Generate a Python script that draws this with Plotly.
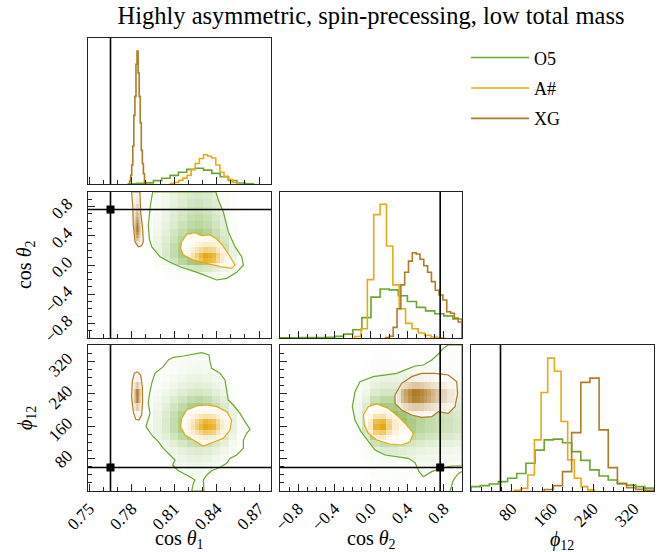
import numpy as np
import plotly.graph_objects as go

SERIES = ["O5", "A#", "XG"]
COLORS = {"O5": (104, 168, 44), "A#": (232, 170, 20), "XG": (176, 123, 37)}
TRUTHS = {"c1": 0.765, "c2": 0.76, "phi": 58.0}
RANGES = {"c1": [0.7491, 0.8784], "c2": [-1.0, 1.0], "phi": [0.0, 360.0]}

TICKS_C1 = [0.75, 0.78, 0.81, 0.84, 0.87]
TICKTEXT_C1 = ["0.75", "0.78", "0.81", "0.84", "0.87"]
TICKS_C2 = [-0.8, -0.4, 0.0, 0.4, 0.8]
TICKTEXT_C2 = ["\u22120.8", "\u22120.4", "0.0", "0.4", "0.8"]
TICKS_PHI = [80, 160, 240, 320]
TICKTEXT_PHI = ["80", "160", "240", "320"]

TITLE = "Highly asymmetric, spin-precessing, low total mass"
LABELS = {"c1": "cos <i>θ</i><sub>1</sub>", "c2": "cos <i>θ</i><sub>2</sub>", "phi": "<i>ϕ</i><sub>12</sub>"}

# ---- 1D histograms (bin edges, relative heights) ----
c1_edges_O5 = [0.7776, 0.7835, 0.7894, 0.7953, 0.8012, 0.8071, 0.8130, 0.8189, 0.8248, 0.8307,
               0.8366, 0.8425, 0.8484, 0.8543, 0.8602, 0.8661]
c1_h_O5 = [0.002, 0.004, 0.008, 0.023, 0.039, 0.059, 0.080, 0.100, 0.108, 0.095, 0.073, 0.050,
           0.024, 0.007, 0.002]
c1_edges_A = [0.8075, 0.8104, 0.8133, 0.8162, 0.8191, 0.8220, 0.8249, 0.8278, 0.8307, 0.8336,
              0.8365, 0.8394, 0.8423, 0.8452, 0.8481, 0.8510, 0.8539]
c1_h_A = [0.005, 0.012, 0.025, 0.040, 0.060, 0.100, 0.140, 0.175, 0.200, 0.190, 0.178, 0.130,
          0.080, 0.053, 0.030, 0.011]
c1_edges_XG = [0.7785, 0.77925, 0.7800, 0.78075, 0.7815, 0.78225, 0.7830, 0.78375, 0.7845,
               0.78525, 0.7860, 0.78675, 0.7875, 0.78825, 0.7890, 0.78975]
c1_h_XG = [0.02, 0.06, 0.13, 0.26, 0.47, 0.60, 0.82, 0.91, 0.76, 0.60, 0.42, 0.23, 0.14, 0.07, 0.01]

c2_edges_O5 = [-1.0, -0.9, -0.8, -0.7, -0.6, -0.5, -0.4, -0.3, -0.2, -0.1, 0.0, 0.1, 0.2, 0.3,
               0.4, 0.5, 0.6, 0.7, 0.8, 0.9, 1.0]
c2_h_O5 = [0.002, 0.002, 0.003, 0.003, 0.004, 0.005, 0.011, 0.027, 0.057, 0.140, 0.280, 0.336,
           0.330, 0.290, 0.250, 0.210, 0.186, 0.166, 0.152, 0.130]
c2_edges_A = [-0.18, -0.11, -0.04, 0.03, 0.10, 0.17, 0.24, 0.31, 0.38, 0.45, 0.52, 0.59, 0.66,
              0.73, 0.80]
c2_h_A = [0.010, 0.064, 0.400, 0.845, 0.916, 0.630, 0.364, 0.200, 0.100, 0.064, 0.034, 0.018,
          0.007, 0.002]
c2_edges_XG = [0.160, 0.202, 0.244, 0.286, 0.328, 0.370, 0.412, 0.454, 0.496, 0.538, 0.580,
               0.622, 0.664, 0.706, 0.748, 0.790, 0.832, 0.874, 0.916, 0.958, 1.000]
c2_h_XG = [0.003, 0.012, 0.073, 0.200, 0.364, 0.450, 0.527, 0.584, 0.575, 0.540, 0.495, 0.450,
           0.386, 0.327, 0.295, 0.260, 0.180, 0.170, 0.136, 0.110]

phi_edges_O5 = [0, 18, 36, 54, 72, 90, 108, 126, 144, 162, 180, 198, 216, 234, 252, 270, 288,
                306, 324, 342, 360]
phi_h_O5 = [0.030, 0.037, 0.048, 0.064, 0.087, 0.120, 0.190, 0.280, 0.350, 0.355, 0.330, 0.270,
            0.210, 0.145, 0.103, 0.075, 0.048, 0.040, 0.030, 0.020]
phi_edges_A = [85.4, 98.5, 111.6, 124.7, 137.8, 150.9, 164.0, 177.1, 190.2, 203.3, 216.4, 229.5,
               242.6]
phi_h_A = [0.005, 0.018, 0.110, 0.350, 0.675, 0.910, 0.820, 0.476, 0.213, 0.087, 0.030, 0.008]
phi_edges_XG = [144, 162, 180, 198, 216, 234, 252, 270, 288, 306, 324, 342, 360]
phi_h_XG = [0.010, 0.037, 0.133, 0.400, 0.744, 0.773, 0.419, 0.160, 0.053, 0.023, 0.011, 0.005]

# ---- contour outlines ----
# cos theta1 vs cos theta2
ct_c1c2_O5_x = [0.7948, 0.7934, 0.7917, 0.7924, 0.7941, 0.8000, 0.8070, 0.8141, 0.8282, 0.8400,
                0.8471, 0.8542, 0.8589, 0.8577, 0.8530, 0.8482, 0.8447, 0.8412, 0.8395]
ct_c1c2_O5_y = [1.0, 0.845, 0.548, 0.365, 0.251, 0.114, 0.037, -0.023, -0.114, -0.205, -0.183,
                -0.100, 0.0, 0.114, 0.251, 0.457, 0.730, 0.890, 1.0]
ct_c1c2_A_x = [0.8153, 0.8188, 0.8247, 0.8294, 0.8353, 0.8400, 0.8436, 0.8482, 0.8530, 0.8506,
               0.8424, 0.8330, 0.8235, 0.8165, 0.8146]
ct_c1c2_A_y = [0.319, 0.420, 0.443, 0.402, 0.411, 0.356, 0.283, 0.155, 0.0, -0.045, -0.023, 0.023,
               0.068, 0.137, 0.228]
ct_c1c2_XG_x = [0.7799, 0.7807, 0.7811, 0.7823, 0.7847, 0.7870, 0.7882, 0.7877, 0.7863, 0.7858]
ct_c1c2_XG_y = [1.0, 0.822, 0.548, 0.319, 0.251, 0.265, 0.319, 0.503, 0.730, 1.0]
# cos theta1 vs phi12
ct_c1phi_O5_x = [0.8058, 0.8094, 0.8164, 0.8235, 0.8294, 0.8347, 0.8353, 0.8365, 0.8424, 0.8459,
                 0.8471, 0.8482, 0.8518, 0.8565, 0.8600, 0.8636, 0.8612, 0.8589, 0.8589, 0.8542,
                 0.8494, 0.8471, 0.8424, 0.8365, 0.8330, 0.8306, 0.8311, 0.8224, 0.8235, 0.8247,
                 0.8188, 0.8129, 0.8089, 0.8106, 0.8070, 0.8023, 0.7988, 0.7941, 0.7901, 0.7929,
                 0.7917, 0.7924, 0.7941, 0.7964, 0.8023]
ct_c1phi_O5_y = [323, 329.6, 332.8, 337.8, 341, 335.3, 318.9, 302.4, 290.1, 273.7, 249, 224.4, 212,
                 191.5, 170.9, 152, 142.2, 125.7, 105.2, 88.8, 80.5, 68.2, 58.4, 50.1, 39.4, 27.1,
                 0, 0, 18.9, 27.1, 39.4, 50.1, 64.1, 76.4, 88.8, 105.2, 121.6, 138.1, 158.6, 191.5,
                 216.1, 236.7, 265.5, 290.1, 306.6]
ct_c1phi_A_x = [0.8153, 0.8188, 0.8259, 0.8330, 0.8400, 0.8471, 0.8506, 0.8494, 0.8447, 0.8388,
                0.8306, 0.8235, 0.8176, 0.8146]
ct_c1phi_A_y = [179.2, 199.7, 209.6, 212, 207.9, 195.6, 175, 150.4, 129.9, 121.6, 110.9, 125.7,
                138.1, 158.6]
ct_c1phi_XG_x = [0.7839, 0.7863, 0.7875, 0.7877, 0.7870, 0.7851, 0.7828, 0.7811, 0.7799, 0.7804,
                 0.7818]
ct_c1phi_XG_y = [294.3, 286, 257.2, 220.3, 187.4, 175, 176.7, 195.6, 232.6, 269.6, 290.1]
# cos theta2 vs phi12
ct_c2phi_O5_x = [-0.176, -0.121, 0.026, 0.154, 0.282, 0.392, 0.484, 0.575, 0.667, 0.740, 0.795,
                 0.832, 0.85, 1.0, 1.0, 0.886, 0.766, 0.667, 0.575, 0.527, 0.484, 0.410, 0.282,
                 0.154, 0.044, -0.048, -0.110, -0.176, -0.205]
ct_c2phi_O5_y = [244.9, 269.6, 281.9, 286, 290.1, 300, 308.2, 310.7, 323, 337.8, 351.7, 357.5, 360,
                 360, 61.6, 61.6, 55.9, 47.7, 35.3, 47.7, 69.9, 80.5, 84.6, 88.8, 101.1, 129.9,
                 146.3, 175, 207.9]
ct_c2phi_O5b_x = [0.868, 0.905, 0.960, 1.0]
ct_c2phi_O5b_y = [0, 27.1, 43.5, 47.7]
ct_c2phi_A_x = [-0.084, -0.029, 0.062, 0.190, 0.300, 0.392, 0.465, 0.429, 0.337, 0.209, 0.062,
                -0.029, -0.073]
ct_c2phi_A_y = [187.4, 207.9, 214.5, 203.8, 183.3, 162.7, 142.2, 121.6, 113.4, 115.9, 125.7,
                142.2, 162.7]
ct_c2phi_XG_x = [0.264, 0.337, 0.447, 0.557, 0.703, 0.850, 0.941, 0.952, 0.923, 0.850, 0.740,
                 0.667, 0.557, 0.447, 0.337, 0.264]
ct_c2phi_XG_y = [236.7, 265.5, 281.9, 290.1, 290.1, 286, 269.6, 240.9, 207.9, 191.5, 195.6, 183.3,
                 181.6, 187.4, 199.7, 216.1]

HIST = {
    "c1": {"O5": (c1_edges_O5, c1_h_O5), "A#": (c1_edges_A, c1_h_A), "XG": (c1_edges_XG, c1_h_XG)},
    "c2": {"O5": (c2_edges_O5, c2_h_O5), "A#": (c2_edges_A, c2_h_A), "XG": (c2_edges_XG, c2_h_XG)},
    "phi": {"O5": (phi_edges_O5, phi_h_O5), "A#": (phi_edges_A, phi_h_A), "XG": (phi_edges_XG, phi_h_XG)},
}
CONTOURS = {
    ("c1", "c2"): {"O5": [(ct_c1c2_O5_x, ct_c1c2_O5_y)], "A#": [(ct_c1c2_A_x, ct_c1c2_A_y)],
                   "XG": [(ct_c1c2_XG_x, ct_c1c2_XG_y)]},
    ("c1", "phi"): {"O5": [(ct_c1phi_O5_x, ct_c1phi_O5_y)], "A#": [(ct_c1phi_A_x, ct_c1phi_A_y)],
                    "XG": [(ct_c1phi_XG_x, ct_c1phi_XG_y)]},
    ("c2", "phi"): {"O5": [(ct_c2phi_O5_x, ct_c2phi_O5_y)], "A#": [(ct_c2phi_A_x, ct_c2phi_A_y)],
                    "XG": [(ct_c2phi_XG_x, ct_c2phi_XG_y)]},
}
OPEN_LINES = {("c2", "phi"): {"O5": [(ct_c2phi_O5b_x, ct_c2phi_O5b_y)]}}

# density shading style per series (gamma, peak strength)
SHADE = {"O5": (1.15, 0.8), "A#": (1.6, 1.0), "XG": (1.4, 1.0)}

# ---- layout geometry ----
XDOM = {1: [0.0, 0.3233], 2: [0.3392, 0.6608], 3: [0.6767, 1.0]}
YDOM = {1: [0.6777, 1.0], 2: [0.3377, 0.66], 3: [0.0, 0.3223]}
PARAMS = ["c1", "c2", "phi"]
PANELS = {(1, 1): 1, (2, 1): 2, (2, 2): 3, (3, 1): 4, (3, 2): 5, (3, 3): 6}
FONT = "Liberation Serif, Times New Roman, serif"


def rgba(c, a):
    return "rgba(%d,%d,%d,%.3f)" % (c[0], c[1], c[2], a)


def hexc(c):
    return "#%02x%02x%02x" % c


def step_xy(edges, h):
    return [edges[0]] + list(edges), [0] + list(h) + [0]


def lookup(edges, h, pts):
    e = np.asarray(edges, float)
    hv = np.asarray(h, float)
    idx = np.searchsorted(e, pts, side="right") - 1
    ok = (idx >= 0) & (idx < len(hv))
    out = np.zeros_like(pts)
    out[ok] = hv[idx[ok]]
    return out


def inside(px, py, vx, vy):
    vx = np.asarray(vx, float)
    vy = np.asarray(vy, float)
    res = np.zeros(px.shape, bool)
    n = len(vx)
    j = n - 1
    for i in range(n):
        xi, yi, xj, yj = vx[i], vy[i], vx[j], vy[j]
        if yi != yj:
            cond = ((yi > py) != (yj > py)) & (px < (xj - xi) * (py - yi) / (yj - yi) + xi)
            res ^= cond
        j = i
    return res


fig = go.Figure()

def axname(k, kind):
    return kind if k == 1 else kind + str(k)

# ---- 1D histograms ----
for p_i, p in enumerate(PARAMS):
    k = PANELS[(p_i + 1, p_i + 1)]
    for s in SERIES:
        xs, ys = step_xy(*HIST[p][s])
        fig.add_trace(go.Scatter(
            x=xs, y=ys, mode="lines", line=dict(color=hexc(COLORS[s]), width=1.6, shape="hv"),
            xaxis=axname(k, "x"), yaxis=axname(k, "y"), name=s, legendgroup=s,
            showlegend=(p_i == 0), hoverinfo="skip"))

# ---- 2D densities + contours ----
NX, NY = 183, 146
for (r, c), k in PANELS.items():
    if r == c:
        continue
    xp, yp = PARAMS[c - 1], PARAMS[r - 1]
    x0, x1 = RANGES[xp]
    y0, y1 = RANGES[yp]
    xc = x0 + (np.arange(NX) + 0.5) * (x1 - x0) / NX
    yc = y0 + (np.arange(NY) + 0.5) * (y1 - y0) / NY
    XX, YY = np.meshgrid(xc, yc)
    for s in SERIES:
        g, amp = SHADE[s]
        vx = lookup(*HIST[xp][s], xc)
        vy = lookup(*HIST[yp][s], yc)
        Z = np.outer(vy, vx)
        Z = amp * (Z / Z.max()) ** g
        ins = np.zeros(Z.shape, bool)
        for (px_, py_) in CONTOURS[(xp, yp)][s]:
            ins |= inside(XX, YY, px_, py_)
        col = COLORS[s]
        z_out = np.where((~ins) & (Z > 0.002), Z * 0.3, np.nan)
        z_in = np.where(ins, Z, np.nan)
        fig.add_trace(go.Heatmap(
            x=xc, y=yc, z=np.round(z_out, 4), zmin=0, zmax=1, showscale=False, hoverinfo="skip",
            colorscale=[[0, rgba(col, 0)], [1, rgba(col, 1)]],
            xaxis=axname(k, "x"), yaxis=axname(k, "y")))
        fig.add_trace(go.Heatmap(
            x=xc, y=yc, z=np.round(z_in, 4), zmin=0, zmax=1, showscale=False, hoverinfo="skip",
            colorscale=[[0, "rgb(255,255,255)"], [1, rgba(col, 1)]],
            xaxis=axname(k, "x"), yaxis=axname(k, "y")))
    for s in SERIES:
        for (px_, py_) in CONTOURS[(xp, yp)][s]:
            fig.add_trace(go.Scatter(
                x=list(px_) + [px_[0]], y=list(py_) + [py_[0]], mode="lines",
                line=dict(color=hexc(COLORS[s]), width=1.2), showlegend=False, hoverinfo="skip",
                xaxis=axname(k, "x"), yaxis=axname(k, "y")))
        for (px_, py_) in OPEN_LINES.get((xp, yp), {}).get(s, []):
            fig.add_trace(go.Scatter(
                x=px_, y=py_, mode="lines", line=dict(color=hexc(COLORS[s]), width=1.2),
                showlegend=False, hoverinfo="skip", xaxis=axname(k, "x"), yaxis=axname(k, "y")))
    # truth marker
    fig.add_trace(go.Scatter(
        x=[TRUTHS[xp]], y=[TRUTHS[yp]], mode="markers",
        marker=dict(symbol="square", size=8, color="black"), showlegend=False, hoverinfo="skip",
        xaxis=axname(k, "x"), yaxis=axname(k, "y")))

# ---- truth lines ----
shapes = []
for (r, c), k in PANELS.items():
    xp = PARAMS[c - 1]
    xa, ya = axname(k, "x"), axname(k, "y")
    shapes.append(dict(type="line", xref=xa, yref=ya + " domain", x0=TRUTHS[xp], x1=TRUTHS[xp],
                       y0=0, y1=1, line=dict(color="black", width=1.6), layer="above"))
    if r != c:
        yp = PARAMS[r - 1]
        shapes.append(dict(type="line", xref=xa + " domain", yref=ya, x0=0, x1=1, y0=TRUTHS[yp],
                           y1=TRUTHS[yp], line=dict(color="black", width=1.6), layer="above"))

TICKS = {"c1": (TICKS_C1, TICKTEXT_C1, 0.75, 0.01), "c2": (TICKS_C2, TICKTEXT_C2, 0.0, 0.1),
         "phi": (TICKS_PHI, TICKTEXT_PHI, 0.0, 20)}

layout = dict(
    width=664, height=552, margin=dict(l=88, r=10, t=38, b=61, autoexpand=False),
    plot_bgcolor="white", paper_bgcolor="white",
    font=dict(family=FONT, color="black", size=17),
    title=dict(text=TITLE, x=0.5, xref="paper", xanchor="center", y=1 - 15 / 552, yref="container",
               yanchor="middle", font=dict(size=24.5, family=FONT)),
    legend=dict(x=0.668, y=0.997, xanchor="left", yanchor="top", font=dict(size=18, family=FONT),
                tracegroupgap=4, itemwidth=58, bgcolor="rgba(0,0,0,0)"),
    shapes=shapes,
)

for (r, c), k in PANELS.items():
    xp = PARAMS[c - 1]
    tv, tt, t0, dt = TICKS[xp]
    base = dict(showgrid=False, zeroline=False, showline=True, mirror=True, linecolor="#222",
                linewidth=1.2, ticks="inside", ticklen=7, tickwidth=1, tickcolor="#222",
                tickfont=dict(family=FONT, size=17), automargin=False)
    xa = dict(base, domain=XDOM[c], range=RANGES[xp], anchor=axname(k, "y"),
              tickmode="array", tickvals=tv, ticktext=tt, tickangle=-45,
              showticklabels=(r == 3),
              minor=dict(ticks="inside", ticklen=4, tickcolor="#222", tick0=t0, dtick=dt))
    if r == c:
        ya = dict(showgrid=False, zeroline=False, showline=True, mirror=True, linecolor="#222",
                  linewidth=1.2, domain=YDOM[r], range=[0, 1.0], anchor=axname(k, "x"),
                  ticks="", showticklabels=False, automargin=False)
    else:
        yp = PARAMS[r - 1]
        tvy, tty, t0y, dty = TICKS[yp]
        ya = dict(base, domain=YDOM[r], range=RANGES[yp], anchor=axname(k, "x"),
                  tickmode="array", tickvals=tvy, ticktext=tty, tickangle=-45,
                  showticklabels=(c == 1), ticklabelstandoff=16, ticklabelshift=-5,
                  minor=dict(ticks="inside", ticklen=4, tickcolor="#222", tick0=t0y, dtick=dty))
    layout["xaxis" if k == 1 else "xaxis%d" % k] = xa
    layout["yaxis" if k == 1 else "yaxis%d" % k] = ya

ann = [
    dict(text=LABELS["c1"], x=0.1608, y=-0.107, xref="paper", yref="paper", showarrow=False,
         xanchor="center", yanchor="middle", font=dict(size=20, family=FONT)),
    dict(text=LABELS["c2"], x=0.5, y=-0.107, xref="paper", yref="paper", showarrow=False,
         xanchor="center", yanchor="middle", font=dict(size=20, family=FONT)),
    dict(text=LABELS["phi"], x=0.8375, y=-0.109, xref="paper", yref="paper", showarrow=False,
         xanchor="center", yanchor="middle", font=dict(size=20, family=FONT)),
    dict(text=LABELS["c2"], x=-0.1095, y=0.4989, xref="paper", yref="paper", showarrow=False,
         xanchor="center", yanchor="middle", textangle=-90, font=dict(size=20, family=FONT)),
    dict(text=LABELS["phi"], x=-0.1095, y=0.161, xref="paper", yref="paper", showarrow=False,
         xanchor="center", yanchor="middle", textangle=-90, font=dict(size=20, family=FONT)),
]
layout["annotations"] = ann
fig.update_layout(**layout)
fig.write_html("out.html", config={"displayModeBar": False},
               post_script="document.body.style.margin='0px';")
